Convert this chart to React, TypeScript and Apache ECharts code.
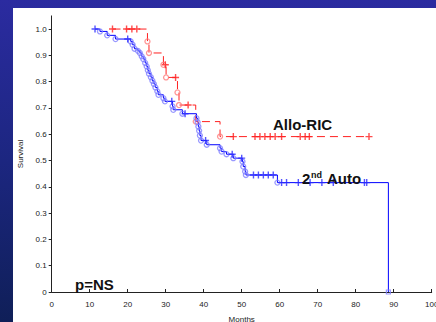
import React, { useEffect, useRef } from "react";
import * as echarts from "echarts";

// Allo-RIC (red) Kaplan-Meier data
const alloStart: [number, number] = [16.0, 1.0];
const alloEventTimes = [25.2, 25.6, 29.4, 30.1, 33.1, 33.5, 37.9, 44.3];
const alloEventSurv = [0.953, 0.909, 0.864, 0.816, 0.759, 0.711, 0.648, 0.591];
const alloEnd: [number, number] = [83.5, 0.591];
const alloCensorTimes = [16.0, 19.7, 21.1, 22.4, 29.9, 32.6, 35.9, 47.8, 53.5, 54.8, 56.1, 57.5, 58.8, 60.5, 65.4, 66.7, 67.8, 83.5];
const alloCensorSurv = [1.0, 1.0, 1.0, 1.0, 0.864, 0.816, 0.711, 0.591, 0.591, 0.591, 0.591, 0.591, 0.591, 0.591, 0.591, 0.591, 0.591, 0.591];

// 2nd Auto (blue) Kaplan-Meier data
const autoStart: [number, number] = [11.4, 1.0];
const autoEventTimes = [12.7, 14.6, 16.8, 20.8, 21.3, 21.8, 22.7, 23.2, 23.7, 24.1, 24.6, 25.0, 25.3, 25.6, 26.1, 26.5, 26.9, 27.3, 27.8, 28.1, 29.4, 29.8, 31.8, 32.0, 34.4, 38.1, 38.4, 38.6, 38.8, 39.0, 39.3, 40.8, 44.3, 44.7, 46.0, 47.8, 50.2, 50.4, 50.9, 51.1, 59.4];
const autoEventSurv = [0.991, 0.976, 0.962, 0.953, 0.940, 0.925, 0.917, 0.909, 0.896, 0.886, 0.871, 0.858, 0.843, 0.830, 0.817, 0.803, 0.791, 0.778, 0.763, 0.750, 0.737, 0.725, 0.706, 0.693, 0.678, 0.661, 0.646, 0.629, 0.613, 0.595, 0.576, 0.560, 0.547, 0.534, 0.524, 0.509, 0.496, 0.477, 0.458, 0.445, 0.416];
const autoLastTime = 88.6;
const autoLastSurv = 0.0;
const autoCensorTimes = [11.4, 20.0, 31.6, 35.1, 40.5, 47.5, 50.0, 53.1, 54.4, 55.7, 57.0, 58.3, 60.5, 61.8, 64.9, 68.0, 71.1, 74.1, 82.3, 82.9];
const autoCensorSurv = [1.0, 0.962, 0.725, 0.678, 0.576, 0.524, 0.509, 0.445, 0.445, 0.445, 0.445, 0.445, 0.416, 0.416, 0.416, 0.416, 0.416, 0.416, 0.416, 0.416];

const yTicks = [0, 0.1, 0.2, 0.3, 0.4, 0.5, 0.6, 0.7, 0.8, 0.9, 1.0];

const PLUS = "path://M4,0h2v4h4v2h-4v4h-2v-4h-4v-2h4z";
const FONT = "Liberation Sans, Arial, sans-serif";

export default function App() {
  const ref = useRef<HTMLDivElement>(null);
  useEffect(() => {
    if (!ref.current) return;
    const chart = echarts.init(ref.current, null, { renderer: "svg" });

    const alloLine = [alloStart, ...alloEventTimes.map((t, i) => [t, alloEventSurv[i]]), alloEnd];
    const alloEvents = alloEventTimes.map((t, i) => [t, alloEventSurv[i]]);
    const alloCens = alloCensorTimes.map((t, i) => [t, alloCensorSurv[i]]);
    const autoLine = [
      autoStart,
      ...autoEventTimes.map((t, i) => [t, autoEventSurv[i]]),
      [autoLastTime, autoLastSurv],
    ];
    const autoEvents = autoEventTimes.map((t, i) => [t, autoEventSurv[i]]);
    const autoCens = autoCensorTimes.map((t, i) => [t, autoCensorSurv[i]]);

    chart.setOption({
      animation: false,
      backgroundColor: "transparent",
      textStyle: { fontFamily: FONT },
      grid: { left: 51.7, right: 4.3, top: 15.9, bottom: 30, containLabel: false, outerBoundsMode: "none" },
      xAxis: {
        type: "value",
        min: 0,
        max: 100,
        interval: 10,
        name: "Months",
        nameLocation: "middle",
        nameGap: 23,
        nameTextStyle: { fontSize: 8, color: "#222", fontFamily: FONT },
        axisLine: { lineStyle: { color: "#222", width: 1 } },
        axisTick: { inside: true, length: 3, lineStyle: { color: "#222" } },
        axisLabel: { fontSize: 8, color: "#222", margin: 8, fontFamily: FONT },
        splitLine: { show: false },
      },
      yAxis: {
        type: "value",
        min: 0,
        max: 1.05,
        name: "Survival",
        nameLocation: "middle",
        nameGap: 26,
        nameTextStyle: { fontSize: 8, color: "#222", fontFamily: FONT },
        axisLine: { show: true, lineStyle: { color: "#222", width: 1 } },
        axisTick: { show: true, length: 3, customValues: yTicks, lineStyle: { color: "#222" } },
        axisLabel: {
          fontSize: 8,
          color: "#222",
          margin: 5,
          fontFamily: FONT,
          customValues: yTicks,
          formatter: (v: number) => (v > 1.001 ? "" : v === 0 ? "0" : v.toFixed(1)),
        },
        splitLine: { show: false },
      },
      series: [
        {
          type: "line",
          step: "end",
          data: alloLine,
          showSymbol: false,
          lineStyle: { color: "#ff2020", width: 1, type: [8, 5] },
          z: 3,
        },
        {
          type: "scatter",
          data: alloEvents,
          symbol: "circle",
          symbolSize: 5,
          itemStyle: { color: "rgba(255,255,255,0)", borderColor: "#ff7a7a", borderWidth: 1.3 },
          z: 4,
        },
        {
          type: "scatter",
          data: alloCens,
          symbol: PLUS,
          symbolSize: 7,
          itemStyle: { color: "#ff2020" },
          z: 4,
        },
        {
          type: "line",
          step: "end",
          data: autoLine,
          showSymbol: false,
          lineStyle: { color: "#0000ff", width: 1 },
          z: 3,
        },
        {
          type: "scatter",
          data: autoEvents,
          symbol: "circle",
          symbolSize: 5,
          itemStyle: { color: "rgba(255,255,255,0)", borderColor: "#7f7fff", borderWidth: 1.3 },
          z: 4,
        },
        {
          type: "scatter",
          data: [[autoLastTime, autoLastSurv]],
          symbol: "rect",
          symbolSize: 4,
          itemStyle: { color: "rgba(255,255,255,0)", borderColor: "#7f7fff", borderWidth: 1.2 },
          z: 4,
        },
        {
          type: "scatter",
          data: autoCens,
          symbol: PLUS,
          symbolSize: 7,
          itemStyle: { color: "#2a2aff" },
          z: 4,
        },
      ],
      graphic: [
        {
          type: "text",
          left: 273,
          top: 117,
          style: { text: "Allo-RIC", font: "bold 15px " + FONT, fill: "#111" },
          z: 10,
        },
        {
          type: "text",
          left: 302,
          top: 171,
          style: { text: "2", font: "bold 15px " + FONT, fill: "#111" },
          z: 10,
        },
        {
          type: "text",
          left: 311,
          top: 170,
          style: { text: "nd", font: "bold 9px " + FONT, fill: "#111" },
          z: 10,
        },
        {
          type: "text",
          left: 327,
          top: 171,
          style: { text: "Auto", font: "bold 15px " + FONT, fill: "#111" },
          z: 10,
        },
        {
          type: "text",
          left: 75,
          top: 277,
          style: { text: "p=NS", font: "bold 15px " + FONT, fill: "#111" },
          z: 10,
        },
      ],
    });
    return () => chart.dispose();
  }, []);

  return (
    <div
      style={{
        position: "fixed",
        left: 0,
        top: 0,
        width: 436,
        height: 322,
        background: "linear-gradient(to bottom, #2b2ba0 0%, #1c2680 50%, #0f1f58 100%)",
        overflow: "hidden",
      }}
    >
      <div style={{ position: "absolute", left: 13, top: 8, right: 0, bottom: 0, background: "#ffffff" }} />
      <div ref={ref} style={{ position: "absolute", left: 0, top: 0, width: 436, height: 322 }} />
    </div>
  );
}
